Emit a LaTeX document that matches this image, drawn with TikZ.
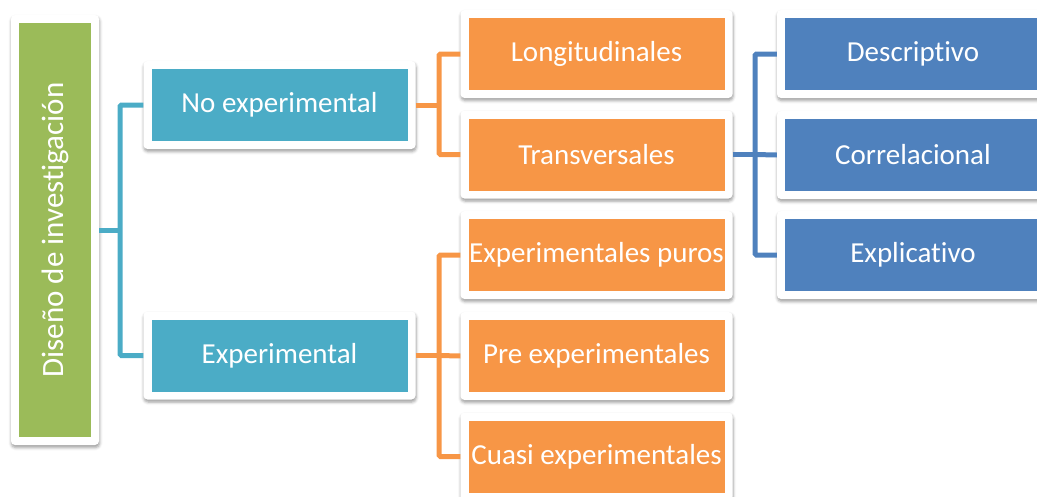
\documentclass[tikz,border=0pt]{standalone}
\usepackage{fontspec}
\setmainfont{Carlito}[Ligatures=NoCommon]
\usetikzlibrary{shadows.blur}
\definecolor{cgreen}{HTML}{9BBB59}
\definecolor{cblue}{HTML}{4BACC6}
\definecolor{corange}{HTML}{F79646}
\definecolor{cdblue}{HTML}{4F81BD}
\tikzset{
  box/.style={fill=white, rounded corners=4pt, inner sep=0pt,
    minimum width=272pt, minimum height=88pt, text=white, align=center,
    font=\fontsize{29}{33}\selectfont,
    blur shadow={shadow xshift=0.5pt, shadow yshift=-2.5pt, shadow blur radius=3pt, shadow opacity=40},
    path picture={\fill[#1, sharp corners] ([shift={(8pt,8pt)}]path picture bounding box.south west) rectangle ([shift={(-8pt,-8pt)}]path picture bounding box.north east);}},
  rootbox/.style={box=cgreen, minimum width=88pt, minimum height=430pt},
  roottext/.style={rotate=90, text=white, font=\fontsize{31}{35}\selectfont, inner sep=0pt},
  l1box/.style={box=cblue},
  l2box/.style={box=corange},
  l3box/.style={box=cdblue},
  conn/.style={line width=5pt, rounded corners=1.5pt},
}
\begin{document}
\begin{tikzpicture}[x=1pt,y=-1pt]
\useasboundingbox (0,0) rectangle (1037,496);
\clip (0,0) rectangle (1037,496);
\coordinate (j1) at (120,230);
\coordinate (j2) at (439,105);
\coordinate (j3) at (439,355.5);
\coordinate (j4) at (755,154.5);
% nodes
\node[rootbox] (green) at (55,230) {};
\node[roottext] (greentext) at (green.center) {Diseño de investigación};
\node[l1box] (noexp) at (279.5,105) {No experimental};
\node[l1box] (exp) at (279.5,355.5) {Experimental};
\node[l2box] (long) at (596.5,54) {Longitudinales};
\node[l2box] (trans) at (596.5,154.5) {Transversales};
\node[l2box] (puros) at (596.5,255) {Experimentales puros};
\node[l2box] (pre) at (596.5,356) {Pre experimentales};
\node[l2box] (cuasi) at (596.5,456.5) {Cuasi experimentales};
\node[l3box] (desc) at (913,54) {Descriptivo};
\node[l3box] (corr) at (913,155) {Correlacional};
\node[l3box] (expl) at (913,255) {Explicativo};
% connectors
\draw[conn, cblue] (green.east) -- (j1);
\draw[conn, cblue] (noexp.west) -| (j1) |- (exp.west);
\draw[conn, corange] (noexp.east) -- (j2);
\draw[conn, corange] (long.west) -| (j2) |- (trans.west);
\draw[conn, corange] (exp.east) -- (j3);
\draw[conn, corange] (puros.west) -| (j3) |- (cuasi.west);
\draw[conn, corange] (j3) -- (pre.west);
\draw[conn, cdblue] (trans.east) -- (j4);
\draw[conn, cdblue] (desc.west) -| (j4) |- (expl.west);
\draw[conn, cdblue] (j4) -- (corr.west);
\end{tikzpicture}
\end{document}
